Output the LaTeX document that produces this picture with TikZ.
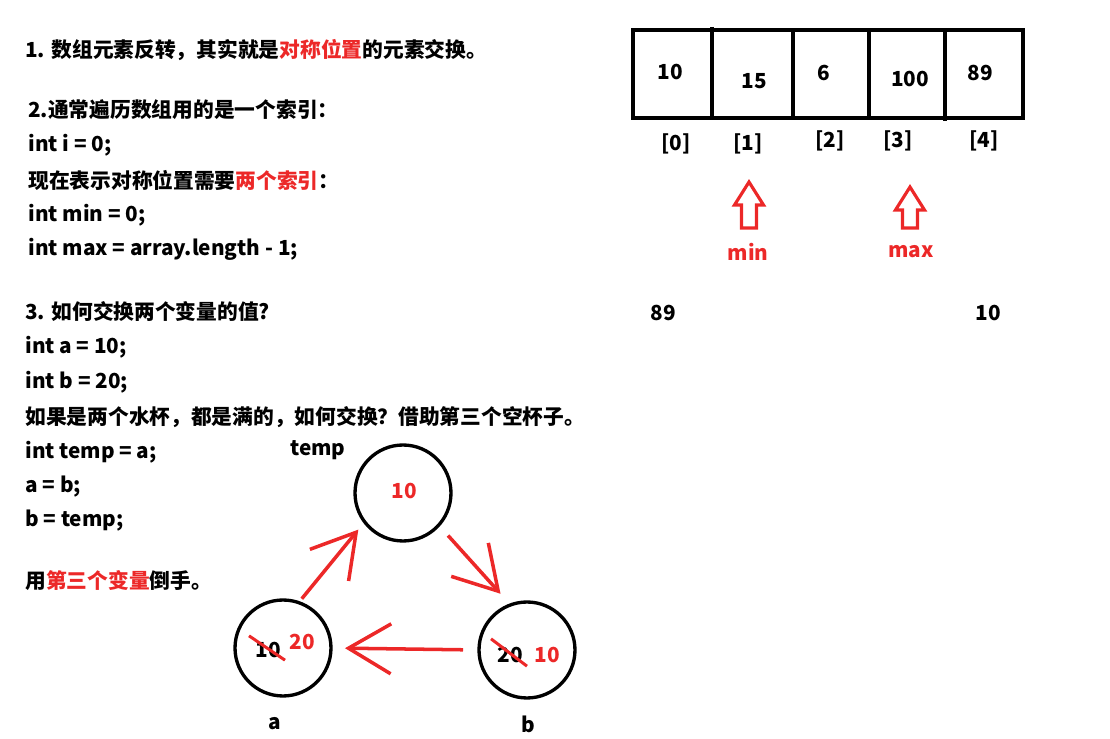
\documentclass[tikz,border=0pt]{standalone}
\usepackage{fontspec}
\setmainfont{Noto Sans CJK SC}
\usetikzlibrary{arrows.meta}

\definecolor{markred}{RGB}{236,40,40}

\tikzset{
  txt/.style={anchor=west, inner sep=0pt, font=\bfseries\fontsize{11.8}{14}\selectfont},
  val/.style={inner sep=0pt, font=\bfseries\fontsize{11.8}{14}\selectfont},
  cup/.style={circle, draw, line width=1.9pt, minimum size=1.92cm, inner sep=0pt, outer sep=0pt},
  pour/.style={draw=markred, line width=2pt, -{Straight Barb[length=0.85cm,width=1cm]}},
  cross/.style={draw=markred, line width=1.7pt},
}

\begin{document}
\begin{tikzpicture}[x=0.02cm,y=-0.02cm]
    \useasboundingbox (0,0) rectangle (1110,739);

    % notes on the left
    \node[txt] (n1) at (25,50) {1. 数组元素反转，其实就是\textcolor{markred}{对称位置}的元素交换。};
    \node[txt] (n2) at (28,110) {2.通常遍历数组用的是一个索引：};
    \node[txt] (n3) at (28,145) {int i = 0;};
    \node[txt] (n4) at (28,180) {现在表示对称位置需要\textcolor{markred}{两个索引}：};
    \node[txt] (n5) at (28,215) {int min = 0;};
    \node[txt] (n6) at (28,249) {int max = array.length - 1;};
    \node[txt] (n7) at (25,312) {3. 如何交换两个变量的值?};
    \node[txt] (n8) at (25,347) {int a = 10;};
    \node[txt] (n9) at (25,382) {int b = 20;};
    \node[txt] (n10) at (25,417) {如果是两个水杯，都是满的，如何交换？借助第三个空杯子。};
    \node[txt] (n11) at (25,452) {int temp = a;};
    \node[txt] (n12) at (25,487) {a = b;};
    \node[txt] (n13) at (25,521) {b = temp;};
    \node[txt] (n14) at (25,581) {用\textcolor{markred}{第三个变量}倒手。};

    % the array
    \draw[line width=1.9pt] (633,30) rectangle (1023,118);
    \draw[line width=1.9pt] (712,27) -- (712,118);
    \draw[line width=1.9pt] (945,30) -- (945,121);
    \foreach \x in {793,869}
      \draw[line width=1.9pt] (\x,30) -- (\x,118);
    \node[val] (c0) at (670,72) {10};
    \node[val] (c1) at (754,81) {15};
    \node[val] (c2) at (824,73) {6};
    \node[val] (c3) at (910,79) {100};
    \node[val] (c4) at (980,73) {89};
    \node[val] (i0) at (676,144) {[0]};
    \node[val] (i1) at (748,144) {[1]};
    \node[val] (i2) at (830,141) {[2]};
    \node[val] (i3) at (898,141) {[3]};
    \node[val] (i4) at (984,141) {[4]};

    % index pointers
    \foreach \x/\y in {749/182,910/187}
      \draw[markred, line width=1.8pt] (\x,\y) -- ++(14.5,23) -- ++(-7,0)
        -- (\x+7.5,228) -- (\x-7.5,228) -- (\x-7.5,\y+23) -- ++(-7,0) -- cycle;
    \node[val, text=markred] (pmin) at (748,252) {min};
    \node[val, text=markred] (pmax) at (911,252) {max};

    \node[val] (s0) at (663,313) {89};
    \node[val] (s4) at (988,313) {10};

    % three cups
    \node[cup] (temp) at (403,493) {};
    \node[cup] (a) at (283,648) {};
    \node[cup] (b) at (527,650) {};
    \node[val] (templab) at (318,450) {temp};
    \node[val] (alab) at (275,724) {a};
    \node[val] (blab) at (528,724) {b};

    \node[val, text=markred] (tempval) at (404,491) {10};
    \node[val] (aold) at (268,650) {10};
    \node[val, text=markred] (anew) at (302,642) {20};
    \node[val] (bold) at (510,655) {20};
    \node[val, text=markred] (bnew) at (547,655) {10};
    \draw[cross] ([shift={(-6,-6)}]aold.north west) -- ([shift={(4,2)}]aold.south east);
    \draw[cross] ([shift={(-6,-8)}]bold.north west) -- ([shift={(4,3)}]bold.south east);

    \draw[pour, shorten <=0.1cm, shorten >=0.2cm] (a.71) -- (temp.217);
    \draw[pour, shorten <=0.28cm, shorten >=0.3cm] (temp.-42) -- (b.110);
    \draw[pour, shorten <=0.32cm, shorten >=0.28cm] (b.west) -- (a.east);
\end{tikzpicture}
\end{document}
